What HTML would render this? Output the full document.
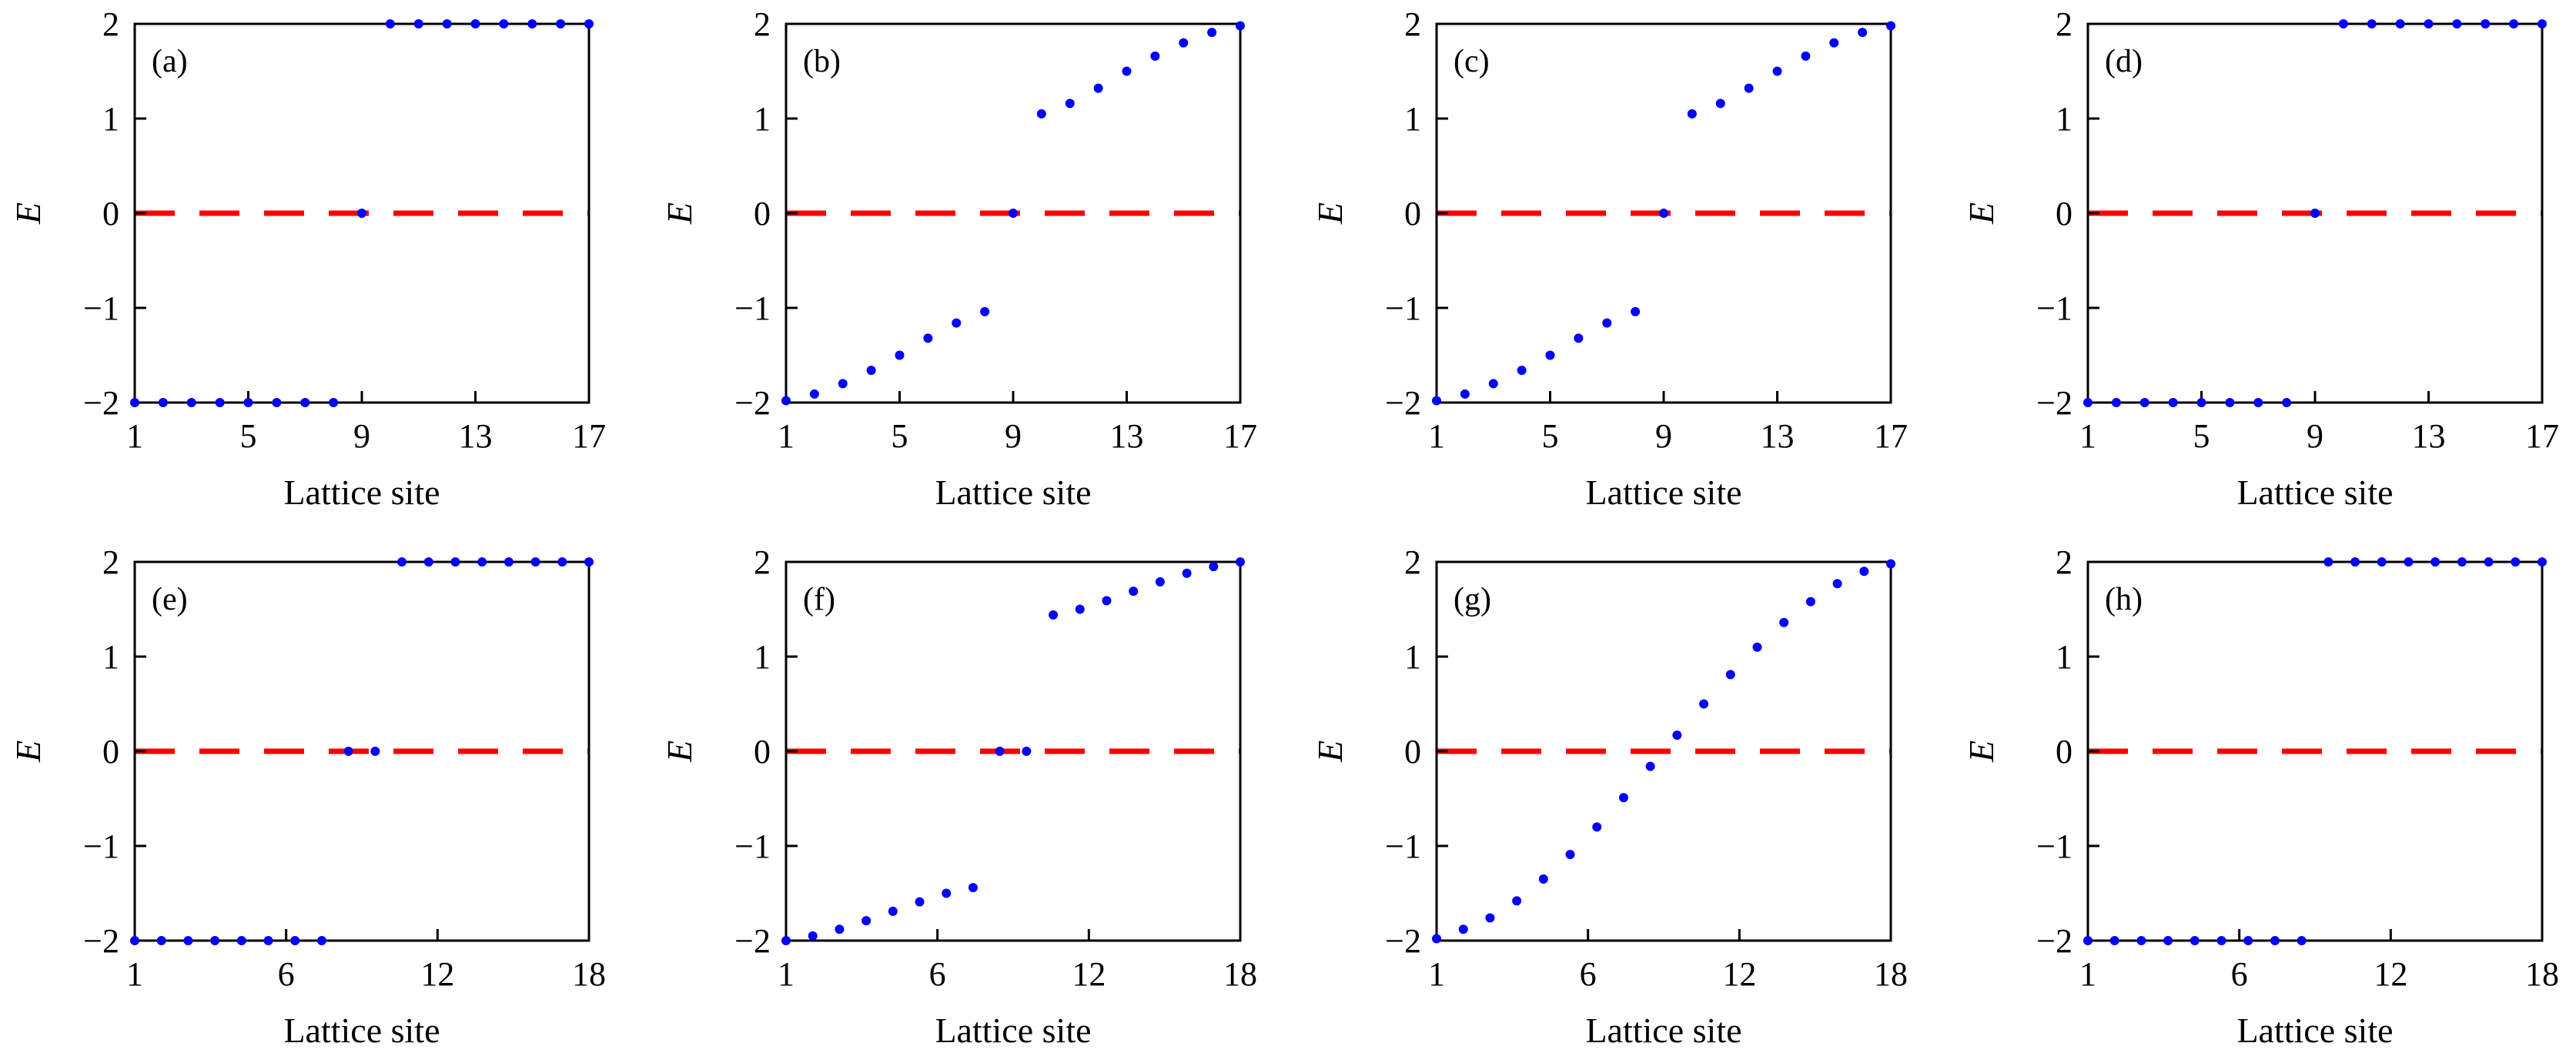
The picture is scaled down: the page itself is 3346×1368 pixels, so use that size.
<!DOCTYPE html>
<html><head><meta charset="utf-8">
<style>
html,body{margin:0;padding:0;background:#fff;}
svg{display:block;}
text{font-family:"Liberation Serif",serif;fill:#000;}
</style></head>
<body>
<svg id="fig" width="3346" height="1368" viewBox="0 0 3346 1368" xmlns="http://www.w3.org/2000/svg"></svg>
<script>
const panelLabels = ["(a)","(b)","(c)","(d)","(e)","(f)","(g)","(h)"];
const seriesA = [-2,-2,-2,-2,-2,-2,-2,-2,0,2,2,2,2,2,2,2,2];
const seriesB = [-1.98,-1.91,-1.80,-1.66,-1.50,-1.32,-1.16,-1.04,0,1.05,1.16,1.32,1.50,1.66,1.80,1.91,1.98];
const seriesC = [-1.98,-1.91,-1.80,-1.66,-1.50,-1.32,-1.16,-1.04,0,1.05,1.16,1.32,1.50,1.66,1.80,1.91,1.98];
const seriesD = [-2,-2,-2,-2,-2,-2,-2,-2,0,2,2,2,2,2,2,2,2];
const seriesE = [-2,-2,-2,-2,-2,-2,-2,-2,0,0,2,2,2,2,2,2,2,2];
const seriesF = [-2,-1.95,-1.88,-1.79,-1.69,-1.59,-1.50,-1.44,0,0,1.44,1.50,1.59,1.69,1.79,1.88,1.95,2];
const seriesG = [-1.98,-1.88,-1.76,-1.58,-1.35,-1.09,-0.80,-0.49,-0.16,0.17,0.50,0.81,1.10,1.36,1.58,1.77,1.90,1.98];
const seriesH = [-2,-2,-2,-2,-2,-2,-2,-2,-2,2,2,2,2,2,2,2,2,2];
const topTickValues = [1,5,9,13,17];
const topTickLabels = ["1","5","9","13","17"];
const bottomTickValues = [1,1+17/3,1+34/3,18];
const bottomTickLabels = ["1","6","12","18"];
const yTickValues = [-2,-1,0,1,2];
const yTickLabels = ["\u22122","\u22121","0","1","2"];

const allSeries=[seriesA,seriesB,seriesC,seriesD,seriesE,seriesF,seriesG,seriesH];
const NS="http://www.w3.org/2000/svg";
const svg=document.getElementById('fig');
function mk(tag,attrs,parent){const e=document.createElementNS(NS,tag);for(const k in attrs)e.setAttribute(k,attrs[k]);parent.appendChild(e);return e;}
const lefts=[175,1021,1866,2712], W=590, tops=[31,730], H=492;

allSeries.forEach((data,i)=>{
  const row=Math.floor(i/4), col=i%4;
  const L=lefts[col], T=tops[row], B=T+H, R=L+W;
  const n=data.length;
  const xs=v=>L+(v-1)/(n-1)*W;
  const ys=v=>B-(v+2)/4*H;
  const g=mk('g',{},svg);
  
  
  const zl=mk('line',{x1:L,x2:R,y1:ys(0),y2:ys(0),stroke:'#ff0000','stroke-width':7,'stroke-dasharray':'52 32'},g);
  
  
  const fr=mk('rect',{x:L,y:T,width:W,height:H,fill:'none',stroke:'#000','stroke-width':3},g);
  
  
  yTickValues.forEach((v,k)=>{
    const y=ys(v);
    const t=mk('line',{x1:L,x2:L+15,y1:y,y2:y,stroke:'#000','stroke-width':3},g);
    
    
    const tx=mk('text',{x:L-20,y:y+15,'font-size':44,'text-anchor':'end'},g);
    tx.textContent=yTickLabels[k];
    
    
  });
  const tv=row===0?topTickValues:bottomTickValues, tl=row===0?topTickLabels:bottomTickLabels;
  tv.forEach((v,k)=>{
    const x=xs(v);
    const t=mk('line',{x1:x,x2:x,y1:B,y2:B-15,stroke:'#000','stroke-width':3},g);
    
    
    const tx=mk('text',{x:x,y:B+58,'font-size':44,'text-anchor':'middle'},g);
    tx.textContent=tl[k];
    
    
  });
  const xl=mk('text',{x:L+W/2,y:B+132,'font-size':46,'text-anchor':'middle'},g);
  xl.textContent='Lattice site';
  
  
  const yl=mk('text',{x:0,y:0,'font-size':46,'font-style':'italic','text-anchor':'middle',transform:`translate(${L-123},${ys(0)}) rotate(-90)`},g);
  yl.textContent='E';
  
  
  const pl=mk('text',{x:L+22,y:T+62,'font-size':42},g);
  pl.textContent=panelLabels[i];
  
  
  data.forEach((v,k)=>{
    const c=mk('ellipse',{cx:xs(k+1),cy:ys(v),rx:6,ry:6,fill:'#0000ff'},g);
    
    
  });
});
</script>
</body></html>
